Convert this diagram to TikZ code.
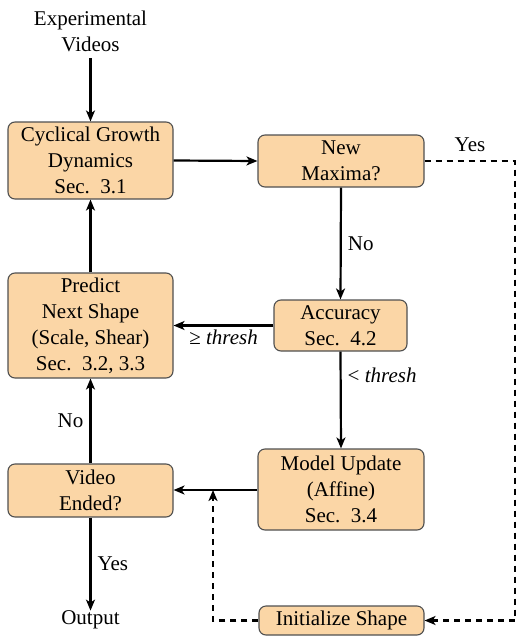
\documentclass[tikz,border=0pt]{standalone}
\usepackage{fontspec}
\setmainfont{Liberation Serif}
\usetikzlibrary{arrows.meta}
\definecolor{boxfill}{RGB}{251,214,166}
\definecolor{boxline}{RGB}{80,80,80}
\begin{document}
\begin{tikzpicture}[x=1pt,y=-1pt,
  every node/.style={font=\fontsize{21}{26}\selectfont},
  stage/.style={draw=boxline, fill=boxfill, line width=1.1pt, rounded corners=7pt,
    align=center, inner sep=0pt, minimum width=#1},
  stage/.default=165pt,
  flow/.style={line width=2.2pt, -{Stealth[length=11pt,width=9pt,inset=3pt]}},
  alt/.style={flow, dash pattern=on 6pt off 5pt},
  lbl/.style={inner sep=2pt}]
\useasboundingbox (0,0) rectangle (518,637);

% boxes
\node[stage, minimum height=77pt] (cyc) at (90.5,160.5)
  {Cyclical Growth\\Dynamics\\Sec.\ \ 3.1};
\node[stage=166pt, minimum height=52pt] (newmax) at (341,161)
  {New\\Maxima?};
\node[stage, minimum height=105pt] (pred) at (90.5,325.5)
  {Predict\\Next Shape\\(Scale, Shear)\\Sec.\ \ 3.2, 3.3};
\node[stage=133pt, minimum height=51pt] (acc) at (340.5,325.5)
  {Accuracy\\Sec.\ \ 4.2};
\node[stage, minimum height=53pt] (vid) at (90.5,490.5)
  {Video\\Ended?};
\node[stage=166pt, minimum height=81pt] (model) at (341,489.5)
  {Model Update\\(Affine)\\Sec.\ \ 3.4};
\node[stage, minimum height=29pt] (init) at (341.5,620.5)
  {Initialize Shape};

% terminals
\node[align=center, inner sep=0pt] (input) at (90.5,31) {Experimental\\Videos};
\node[inner sep=0pt] (output) at (90.5,620) {Output};

% helper points for the dashed loop
\coordinate (r1) at (515,161);
\coordinate (r2) at (515,620.5);
\coordinate (l1) at (213,620.5);
\coordinate (l2) at (213,490);

% main flow
\draw[flow] (input.south |- 0,58) -- (cyc.north);
\draw[flow] (cyc.east) -- (newmax.west);
\draw[flow] (newmax.south) -- node[lbl, right, pos=0.5, xshift=4pt] {No} (acc.north);
\draw[flow] (acc.west) -- node[lbl, below, pos=0.5, yshift=-1pt] {≥ \textit{thresh}} (pred.east);
\draw[flow] (acc.south) -- node[lbl, right, pos=0.25, xshift=4pt] {< \textit{thresh}} (model.north);
\draw[flow] (pred.north) -- (cyc.south);
\draw[flow] (vid.north) -- node[lbl, left, pos=0.5, xshift=-4pt] {No} (pred.south);
\draw[flow] (vid.south) -- node[lbl, right, pos=0.5, xshift=4pt] {Yes} (output.north);
\draw[flow] (model.west |- 0,490) -- (vid.east |- 0,490);

% new-maxima branch
\draw[alt] (newmax.east) -- (r1) -- (r2) -- (init.east);
\node[lbl] (yes) at (470,145) {Yes};
\draw[alt] (init.west) -- (l1) -- (l2);
\end{tikzpicture}
\end{document}
